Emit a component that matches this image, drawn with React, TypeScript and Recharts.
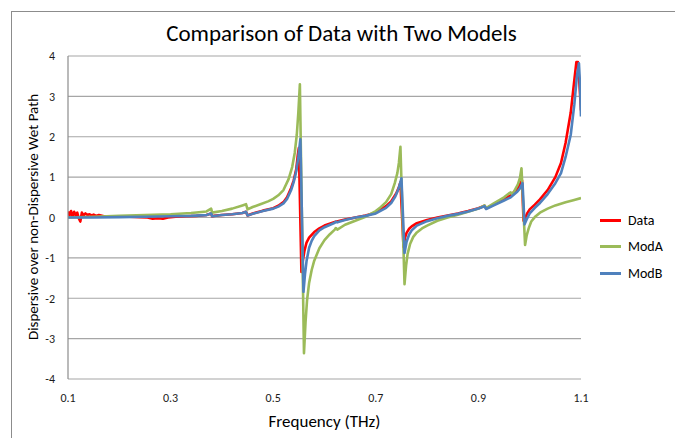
import React from 'react';
import { LineChart, Line, XAxis, YAxis, CartesianGrid } from 'recharts';

const dataFreq = [0.100,0.103,0.106,0.109,0.112,0.115,0.118,0.121,0.124,0.127,0.130,0.134,0.138,0.142,0.146,0.150,0.155,0.160,0.170,0.180,0.200,0.220,0.240,0.255,0.265,0.275,0.285,0.295,0.310,0.330,0.350,0.370,0.379,0.381,0.384,0.400,0.420,0.440,0.447,0.450,0.460,0.480,0.500,0.510,0.520,0.527,0.535,0.540,0.545,0.548,0.550,0.555,0.558,0.561,0.565,0.570,0.580,0.590,0.600,0.620,0.640,0.660,0.680,0.700,0.720,0.730,0.740,0.745,0.748,0.754,0.757,0.760,0.765,0.770,0.780,0.800,0.820,0.840,0.860,0.880,0.900,0.912,0.915,0.930,0.950,0.963,0.975,0.981,0.985,0.988,0.991,0.995,1.000,1.010,1.020,1.035,1.050,1.061,1.070,1.080,1.087,1.091,1.094,1.097,1.100];
const dataVal = [0.15,0.05,0.16,0.02,0.14,0.06,0.12,-0.02,-0.1,0.12,0.05,0.1,0.06,0.08,0.05,0.07,0.04,0.06,0.03,0.03,0.02,0.02,0.01,0.0,-0.03,-0.02,-0.03,0.0,0.02,0.03,0.04,0.06,0.1,0.03,0.04,0.06,0.08,0.11,0.14,0.05,0.1,0.17,0.23,0.29,0.38,0.5,0.73,0.92,1.2,1.55,1.72,-1.35,-1.05,-0.82,-0.62,-0.5,-0.36,-0.27,-0.2,-0.11,-0.05,0.0,0.05,0.12,0.28,0.4,0.6,0.75,0.87,-0.73,-0.5,-0.38,-0.28,-0.22,-0.14,-0.06,0.0,0.05,0.1,0.16,0.23,0.29,0.23,0.32,0.45,0.55,0.7,0.82,0.92,-0.08,-0.02,0.1,0.2,0.32,0.45,0.68,1.0,1.35,1.85,2.6,3.4,3.85,3.85,3.3,2.65];

const modAFreq = [0.100,0.150,0.200,0.250,0.300,0.340,0.370,0.379,0.381,0.400,0.420,0.440,0.447,0.450,0.460,0.475,0.490,0.500,0.510,0.520,0.530,0.537,0.542,0.546,0.549,0.552,0.560,0.563,0.566,0.570,0.575,0.580,0.590,0.600,0.610,0.620,0.622,0.625,0.640,0.660,0.680,0.700,0.710,0.720,0.730,0.737,0.742,0.745,0.748,0.756,0.759,0.762,0.767,0.773,0.780,0.790,0.800,0.820,0.840,0.860,0.880,0.900,0.912,0.915,0.930,0.950,0.960,0.963,0.966,0.972,0.977,0.981,0.984,0.991,0.994,0.998,1.003,1.010,1.020,1.035,1.050,1.070,1.085,1.100];
const modAVal = [0.0,0.02,0.04,0.06,0.08,0.11,0.15,0.22,0.12,0.16,0.22,0.3,0.33,0.2,0.26,0.33,0.4,0.46,0.55,0.68,0.95,1.25,1.6,2.05,2.6,3.3,-3.36,-2.6,-2.05,-1.62,-1.3,-1.07,-0.76,-0.56,-0.42,-0.3,-0.26,-0.3,-0.18,-0.08,0.02,0.16,0.26,0.38,0.58,0.85,1.1,1.35,1.75,-1.65,-1.2,-0.9,-0.65,-0.48,-0.37,-0.27,-0.2,-0.08,0.0,0.07,0.14,0.22,0.3,0.23,0.35,0.5,0.6,0.62,0.56,0.7,0.82,0.98,1.22,-0.68,-0.45,-0.27,-0.1,0.01,0.12,0.22,0.3,0.38,0.43,0.48];

const modBFreq = [0.100,0.150,0.200,0.250,0.300,0.340,0.370,0.379,0.381,0.400,0.420,0.440,0.447,0.450,0.460,0.480,0.500,0.510,0.520,0.527,0.535,0.540,0.545,0.549,0.553,0.559,0.562,0.565,0.570,0.575,0.580,0.590,0.600,0.620,0.622,0.625,0.640,0.660,0.680,0.700,0.720,0.730,0.738,0.744,0.750,0.756,0.760,0.765,0.770,0.780,0.800,0.820,0.840,0.860,0.880,0.900,0.912,0.915,0.930,0.950,0.963,0.975,0.981,0.986,0.990,0.994,1.000,1.010,1.020,1.035,1.050,1.061,1.070,1.080,1.087,1.092,1.096,1.098,1.100];
const modBVal = [0.0,0.0,0.01,0.02,0.03,0.04,0.06,0.1,0.03,0.06,0.08,0.11,0.14,0.05,0.09,0.16,0.22,0.27,0.35,0.46,0.68,0.88,1.15,1.5,1.94,-1.84,-1.4,-1.08,-0.75,-0.58,-0.46,-0.32,-0.24,-0.13,-0.1,-0.12,-0.06,0.0,0.04,0.1,0.24,0.36,0.52,0.7,0.97,-0.88,-0.6,-0.42,-0.32,-0.2,-0.09,-0.02,0.04,0.09,0.15,0.22,0.28,0.21,0.3,0.42,0.5,0.63,0.72,0.85,-0.17,-0.05,0.1,0.24,0.36,0.58,0.85,1.1,1.5,2.05,2.8,3.5,3.82,3.3,2.5];

const xTicks = [0.1, 0.3, 0.5, 0.7, 0.9, 1.1];
const yTicks = [-4, -3, -2, -1, 0, 1, 2, 3, 4];
const seriesNames = ['Data', 'ModA', 'ModB'];
const seriesColors = ['#FF0000', '#9BBB59', '#4F81BD'];

const titleText = 'Comparison of Data with Two Models';
const xTitle = 'Frequency (THz)';
const yTitle = 'Dispersive over non-Dispersive Wet Path';

const FONT = 'Carlito, Calibri, Lato, sans-serif';

const zip = (fs: number[], vs: number[]) => fs.map((f, i) => ({ f, v: vs[i] }));
const seriesData = [zip(dataFreq, dataVal), zip(modAFreq, modAVal), zip(modBFreq, modBVal)];

export default function App() {
  return (
    <div style={{ position: 'absolute', left: 0, top: 0, width: 675, height: 438, background: '#fff', overflow: 'hidden' }}>
      <div style={{ position: 'absolute', left: 11, top: 11, width: 720, height: 520, border: '1px solid #8c8c8c', boxSizing: 'border-box' }} />
      <div style={{ position: 'absolute', left: 0, top: 0 }}>
        <LineChart width={675} height={438} margin={{ top: 56, right: 94, bottom: 29, left: 0 }}>
          <CartesianGrid vertical={false} stroke="#a6a6a6" strokeWidth={1.2} horizontalValues={yTicks} />
          <XAxis
            type="number"
            dataKey="f"
            domain={[0.1, 1.1]}
            ticks={xTicks}
            tickFormatter={(t: number) => t.toFixed(1)}
            axisLine={false}
            tickLine={false}
            tickSize={6}
            tickMargin={8}
            height={30}
            tick={{ fill: '#1a1a1a', fontSize: 12, fontFamily: FONT }}
            allowDataOverflow
          />
          <YAxis
            type="number"
            domain={[-4, 4]}
            ticks={yTicks}
            axisLine={{ stroke: '#8c8c8c', strokeWidth: 1.2 }}
            tickLine={false}
            tickSize={6}
            tickMargin={7}
            width={68}
            tick={{ fill: '#1a1a1a', fontSize: 12, fontFamily: FONT }}
            allowDataOverflow
          />
          {seriesData.map((d, i) => (
            <Line
              key={seriesNames[i]}
              data={d}
              dataKey="v"
              name={seriesNames[i]}
              stroke={seriesColors[i]}
              strokeWidth={2.6}
              dot={false}
              type="linear"
              isAnimationActive={false}
              strokeLinejoin="round"
            />
          ))}
        </LineChart>
      </div>
      <div style={{ position: 'absolute', left: 600, top: 207, fontFamily: FONT, fontSize: 14, color: '#000' }}>
        {seriesNames.map((n, i) => (
          <div key={n} style={{ display: 'flex', alignItems: 'center', height: 26.5 }}>
            <div style={{ width: 21, height: 3, background: seriesColors[i], marginRight: 7 }} />
            <span>{n}</span>
          </div>
        ))}
      </div>
      <div style={{ position: 'absolute', left: 0, width: 675, top: 19, textAlign: 'center', fontFamily: FONT, fontSize: 23, color: '#000', lineHeight: '28px', paddingLeft: 8, boxSizing: 'border-box' }}>
        {titleText}
      </div>
      <div style={{ position: 'absolute', left: 68, width: 513, top: 411, textAlign: 'center', fontFamily: FONT, fontSize: 17, color: '#000', lineHeight: '22px' }}>
        {xTitle}
      </div>
      <div style={{ position: 'absolute', left: 33, top: 217, width: 0, height: 0 }}>
        <div style={{ position: 'absolute', left: -200, top: -10, width: 400, textAlign: 'center', transform: 'rotate(-90deg)', fontFamily: FONT, fontSize: 15, color: '#000', lineHeight: '20px', whiteSpace: 'nowrap' }}>
          {yTitle}
        </div>
      </div>
    </div>
  );
}
